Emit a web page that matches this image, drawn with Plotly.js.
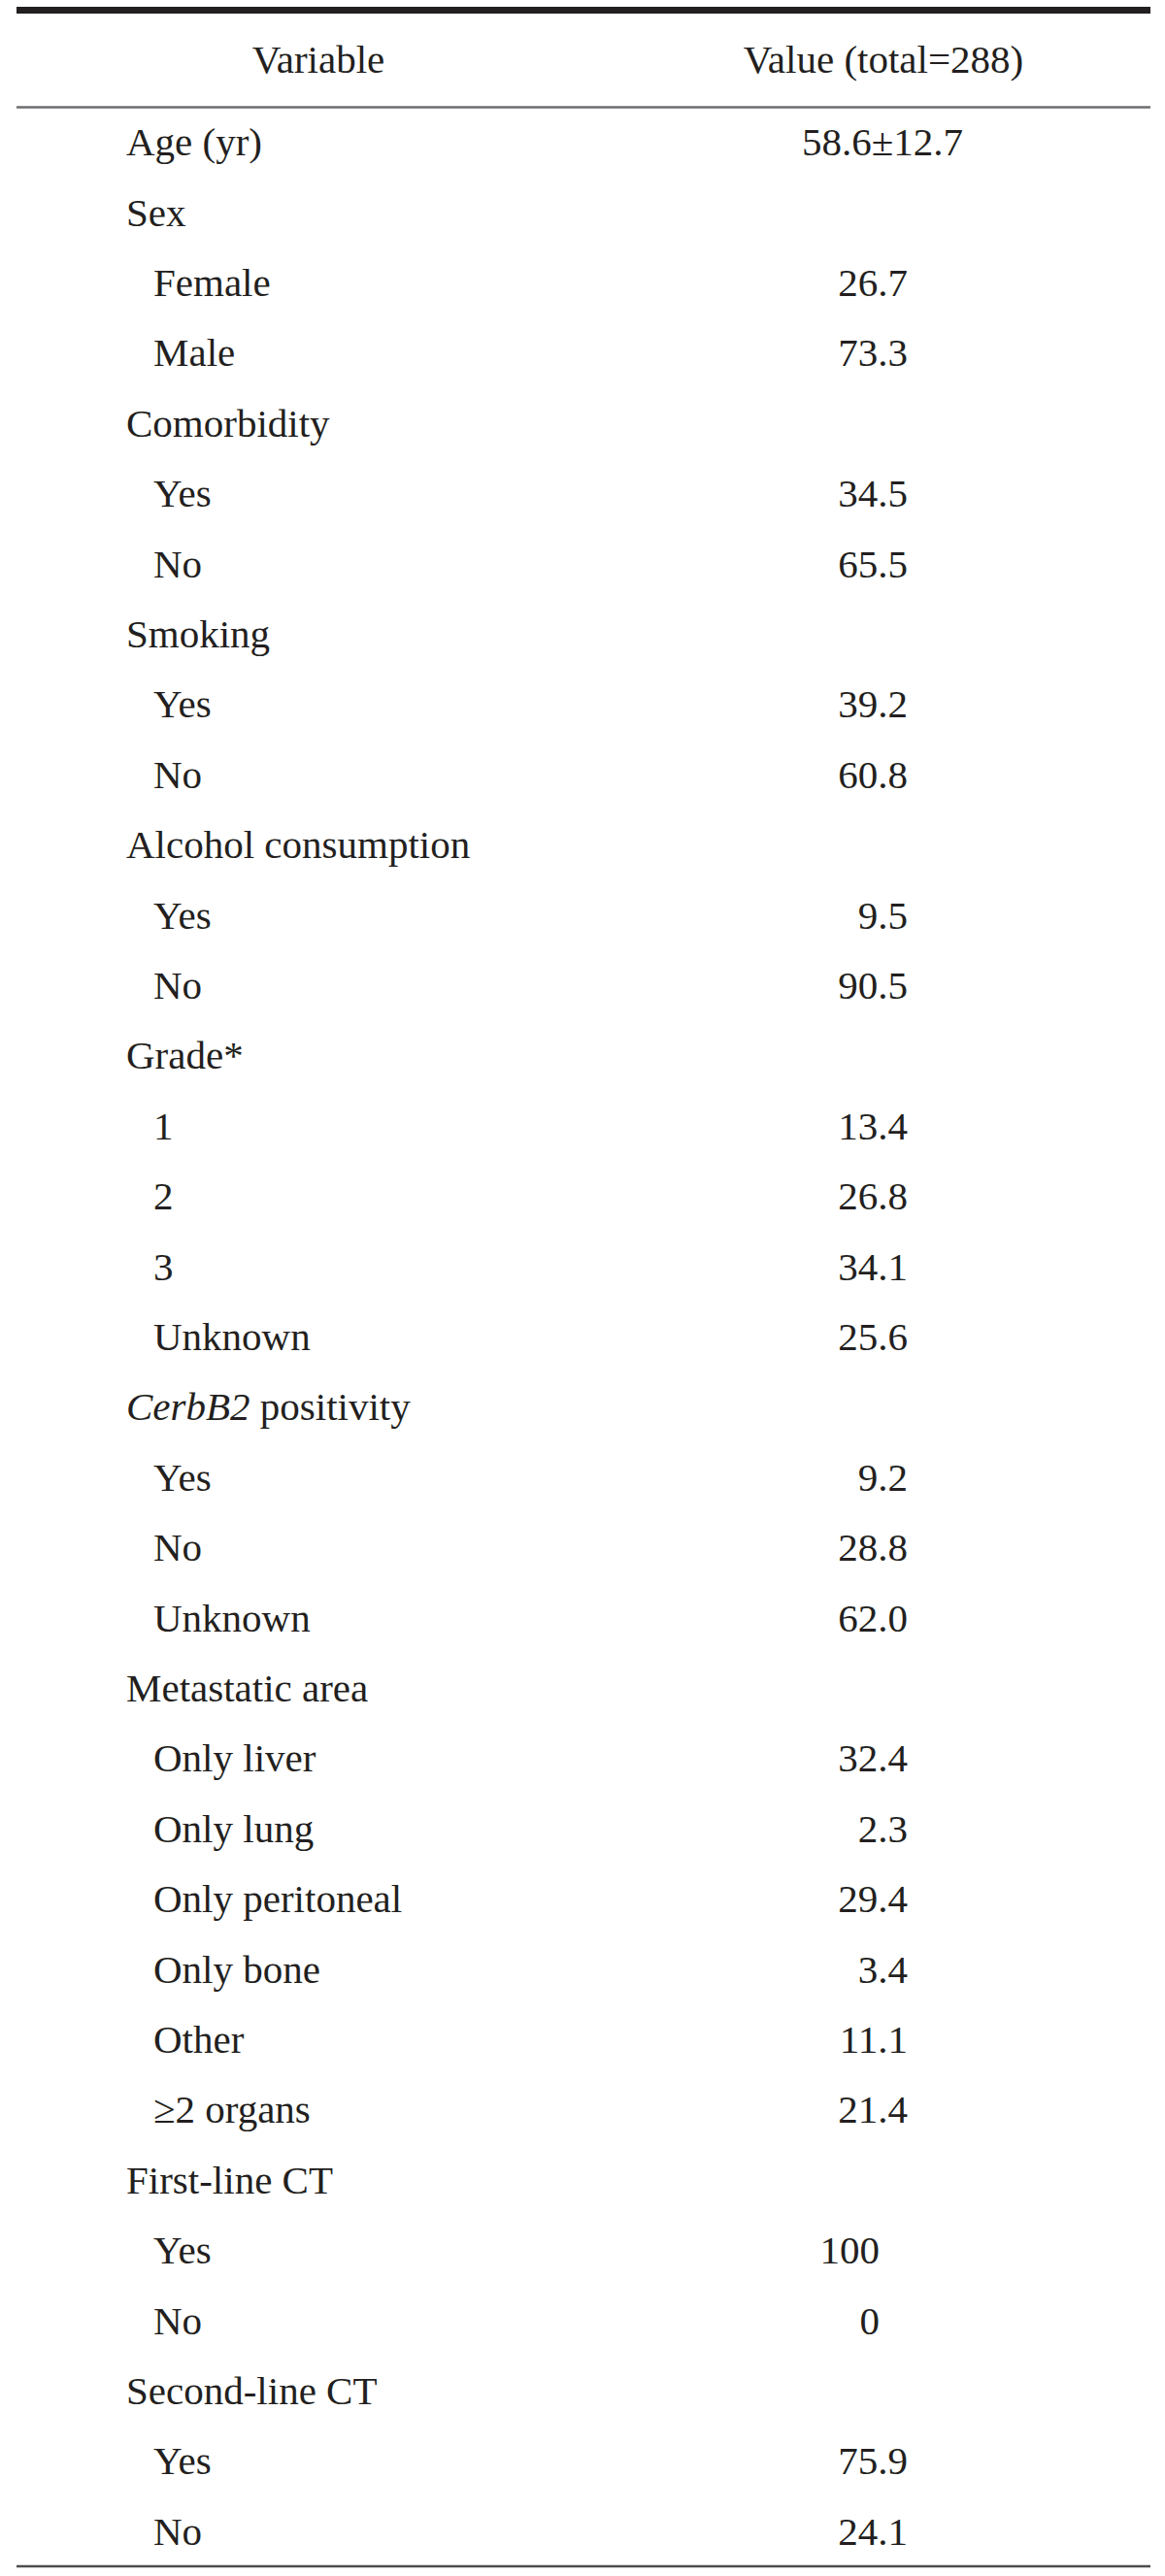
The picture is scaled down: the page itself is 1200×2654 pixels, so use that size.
<!DOCTYPE html>
<html>
<head>
<meta charset="utf-8">
<script src="https://cdn.plot.ly/plotly-3.0.1.min.js"></script>
<style>html,body{margin:0;padding:0;background:#fff;}#chart{width:1200px;height:2654px;}</style>
</head>
<body>
<div id="chart"></div>
<script>
// ---- data ----
var headers = ["Variable", "Value (total=288)"];
var variables = ["Age (yr)","Sex","Female","Male","Comorbidity","Yes","No","Smoking","Yes","No",
  "Alcohol consumption","Yes","No","Grade*","1","2","3","Unknown","<i>CerbB2</i> positivity","Yes","No","Unknown",
  "Metastatic area","Only liver","Only lung","Only peritoneal","Only bone","Other","≥2 organs",
  "First-line CT","Yes","No","Second-line CT","Yes","No"];
var levels = [0,0,1,1,0,1,1,0,1,1,0,1,1,0,1,1,1,1,0,1,1,1,0,1,1,1,1,1,1,0,1,1,0,1,1];
var values = ["58.6±12.7","","26.7","73.3","","34.5","65.5","","39.2","60.8","","9.5","90.5","",
  "13.4","26.8","34.1","25.6","","9.2","28.8","62.0","","32.4","2.3","29.4","3.4","11.1","21.4",
  "","100","0","","75.9","24.1"];

// ---- layout helpers (pixel-based axes) ----
var W = 1200, H = 2654;
var FONT = "Liberation Serif, Times New Roman, serif";
var FS = 41;
var row0 = 150, pitch = 72.4;
function rowY(i){ return row0 + i*pitch; }

var traces = [];
// header
traces.push({type:'scatter', mode:'text', x:[328, 910], y:[64.5, 64.5], text:headers,
  textposition:'middle center', textfont:{family:FONT, size:FS, color:'#231f20'}, hoverinfo:'skip', showlegend:false});
// variable labels
var lx = [], ly = [];
variables.forEach(function(v,i){ lx.push(levels[i] ? 158 : 130); ly.push(rowY(i)); });
traces.push({type:'scatter', mode:'text', x:lx, y:ly, text:variables,
  textposition:'middle right', textfont:{family:FONT, size:FS, color:'#231f20'}, hoverinfo:'skip', showlegend:false});
// values
var vx = [], vy = [], vt = [], vp = [];
values.forEach(function(v,i){
  if(!v) return;
  vy.push(rowY(i)); vt.push(v);
  if(v.indexOf('±') >= 0){ vx.push(909); vp.push('middle center'); }
  else if(v.indexOf('.') < 0){ vx.push(906); vp.push('middle left'); }
  else { vx.push(935); vp.push('middle left'); }
});
traces.push({type:'scatter', mode:'text', x:vx, y:vy, text:vt, textposition:vp,
  textfont:{family:FONT, size:FS, color:'#231f20'}, hoverinfo:'skip', showlegend:false});

var shapes = [
  {type:'line', xref:'x', yref:'y', x0:17, x1:1185, y0:10.5, y1:10.5, line:{color:'#231f20', width:7}},
  {type:'line', xref:'x', yref:'y', x0:17, x1:1185, y0:110.5, y1:110.5, line:{color:'#6d6e71', width:2.5}},
  {type:'line', xref:'x', yref:'y', x0:17, x1:1185, y0:2644, y1:2644, line:{color:'#4d4d4f', width:2.5}}
];

var layout = {
  width: W, height: H,
  margin:{l:0, r:0, t:0, b:0, pad:0},
  paper_bgcolor:'#ffffff', plot_bgcolor:'#ffffff',
  xaxis:{range:[0, W], visible:false, fixedrange:true},
  yaxis:{range:[H, 0], visible:false, fixedrange:true},
  shapes: shapes,
  showlegend:false
};
Plotly.newPlot('chart', traces, layout, {staticPlot:true, displayModeBar:false});
</script>
</body>
</html>
